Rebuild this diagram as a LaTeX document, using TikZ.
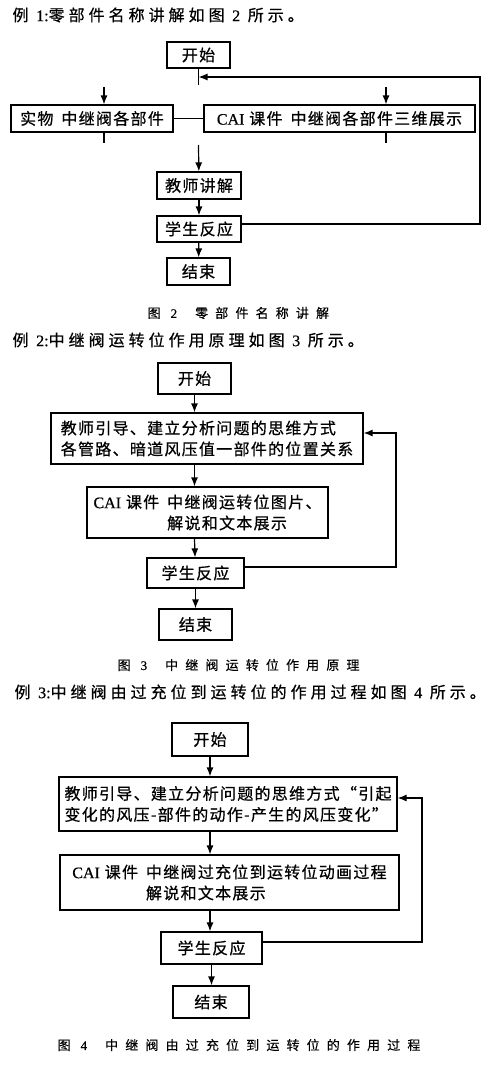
\documentclass[tikz,border=0pt]{standalone}
\usepackage{fontspec}
\usepackage{tikz}
\usetikzlibrary{arrows.meta, positioning, calc}
\newfontfamily\cjk[LetterSpace=8, FakeBold=0.6]{Noto Sans CJK SC}
\newfontfamily\cjktitre[LetterSpace=25, FakeBold=0.6]{Noto Sans CJK SC}
\newfontfamily\cjklegende[LetterSpace=55, FakeBold=0.3]{Noto Sans CJK SC}
\newfontfamily\latin[FakeBold=0.6]{Liberation Serif}
\newcommand{\lat}[1]{{\latin #1}}
\tikzset{
	boite/.style={
		draw,
		line width=1.2pt,
		inner sep=0pt,
		align=left,
		font=\cjk\fontsize{16}{21}\selectfont
	},
	fleche/.style={
		-{Latex[length=9pt, width=7pt]},
		line width=1.2pt
	},
	titre/.style={anchor=west, inner sep=0pt, font=\cjktitre\fontsize{16}{20}\selectfont},
	legende/.style={anchor=west, inner sep=0pt, font=\cjklegende\fontsize{13}{16}\selectfont}
}

\begin{document}
\begin{tikzpicture}[x=1pt, y=-1pt, line width=1.2pt]
	\useasboundingbox (0,0) rectangle (500,1076);
	
	%--- Exemple 1 ---
	\node[titre] (T1) at (12,15) {例 \lat{1:}零部件名称讲解如图 \lat{2} 所示。};
	\node[boite, minimum width=63pt, minimum height=26pt] (D1) at (198.5,55) {开始};
	\node[boite, minimum width=162pt, minimum height=27pt] (M1) at (92,118.5) {实物\hspace{8pt}中继阀各部件};
	\node[boite, minimum width=271pt, minimum height=27pt] (C1) at (339.5,118.5) {\lat{CAI} 课件\hspace{8pt}中继阀各部件三维展示};
	\node[boite, minimum width=84pt, minimum height=27pt] (X1) at (199,185.5) {教师讲解};
	\node[boite, minimum width=84pt, minimum height=26pt] (E1) at (199,229) {学生反应};
	\node[boite, minimum width=63pt, minimum height=27pt] (F1) at (198.5,271.5) {结束};
	\node[legende] (L1) at (147,313) {图 \lat{2}\hspace{18pt}零部件名称讲解};
	
	% points libres
	\coordinate (J1) at (198.5,85);
	\coordinate (K1) at (198.5,145);
	\coordinate (A1) at (104,87);
	\coordinate (A2) at (386,87);
	\coordinate (B1) at (104,143);
	\coordinate (B2) at (386,143);
	\coordinate (R1) at (480,77);
	
	% liaisons
	\draw (D1) -- (J1);
	\draw[fleche] (A1) -- (A1 |- M1.north);
	\draw[fleche] (A2) -- (A2 |- C1.north);
	\draw (M1) -- (C1);
	\draw (B1 |- M1.south) -- (B1);
	\draw (B2 |- C1.south) -- (B2);
	\draw[fleche] (K1) -- (X1);
	\draw[fleche] (X1) -- (E1);
	\draw[fleche] (E1) -- (F1);
	\draw[fleche] ([yshift=5pt]E1.east) -| (R1) -- (J1 |- R1);
	
	%--- Exemple 2 ---
	\node[titre] (T2) at (12,340) {例 \lat{2:}中继阀运转位作用原理如图 \lat{3} 所示。};
	\node[boite, minimum width=73pt, minimum height=31pt] (D2) at (194.5,378.5) {开始};
	\node[boite, minimum width=312pt, minimum height=51pt] (G2) at (207,438.5) {教师引导、建立分析问题的思维方式\\各管路、暗道风压值一部件的位置关系};
	\node[boite, minimum width=241pt, minimum height=51pt] (C2) at (207.5,512.5) {\lat{CAI} 课件\hspace{8pt}中继阀运转位图片、\\\hphantom{\lat{CAI} 课件\hspace{8pt}}解说和文本展示};
	\node[boite, minimum width=97pt, minimum height=30pt] (E2) at (195.5,573) {学生反应};
	\node[boite, minimum width=73pt, minimum height=31pt] (F2) at (195.5,624.5) {结束};
	\node[legende] (L2) at (117,665) {图 \lat{3}\hspace{18pt}中继阀运转位作用原理};
	
	\coordinate (R2) at (396,433);
	\draw[fleche] (D2) -- (D2 |- G2.north);
	\draw[fleche] (D2 |- G2.south) -- (D2 |- C2.north);
	\draw[fleche] (D2 |- C2.south) -- (E2);
	\draw[fleche] (E2) -- (F2);
	\draw[fleche] ([yshift=6pt]E2.east) -| (R2) -- (R2 -| G2.east);
	
	%--- Exemple 3 ---
	\node[titre] (T3) at (14,692) {例 \lat{3:}中继阀由过充位到运转位的作用过程如图 \lat{4} 所示。};
	\node[boite, minimum width=76pt, minimum height=33pt] (D3) at (210,739.5) {开始};
	\node[boite, minimum width=338pt, minimum height=54pt] (G3) at (228,804) {教师引导、建立分析问题的思维方式“引起\\变化的风压-部件的动作-产生的风压变化”};
	\node[boite, minimum width=339pt, minimum height=55pt] (C3) at (229.5,882.5) {\lat{CAI} 课件\hspace{8pt}中继阀过充位到运转位动画过程\\\hphantom{\lat{CAI} 课件\hspace{8pt}}解说和文本展示};
	\node[boite, minimum width=101pt, minimum height=32pt] (E3) at (211.5,948) {学生反应};
	\node[boite, minimum width=76pt, minimum height=32pt] (F3) at (211,1002) {结束};
	\node[legende] (L3) at (57,1045) {图 \lat{4}\hspace{18pt}中继阀由过充位到运转位的作用过程};
	
	\coordinate (R3) at (422,798);
	\draw[fleche] (D3) -- (D3 |- G3.north);
	\draw[fleche] (D3 |- G3.south) -- (D3 |- C3.north);
	\draw[fleche] (D3 |- C3.south) -- (D3 |- E3.north);
	\draw[fleche] (E3) -- (E3 |- F3.north);
	\draw[fleche] ([yshift=6pt]E3.east) -| (R3) -- (R3 -| G3.east);
\end{tikzpicture}
\end{document}
